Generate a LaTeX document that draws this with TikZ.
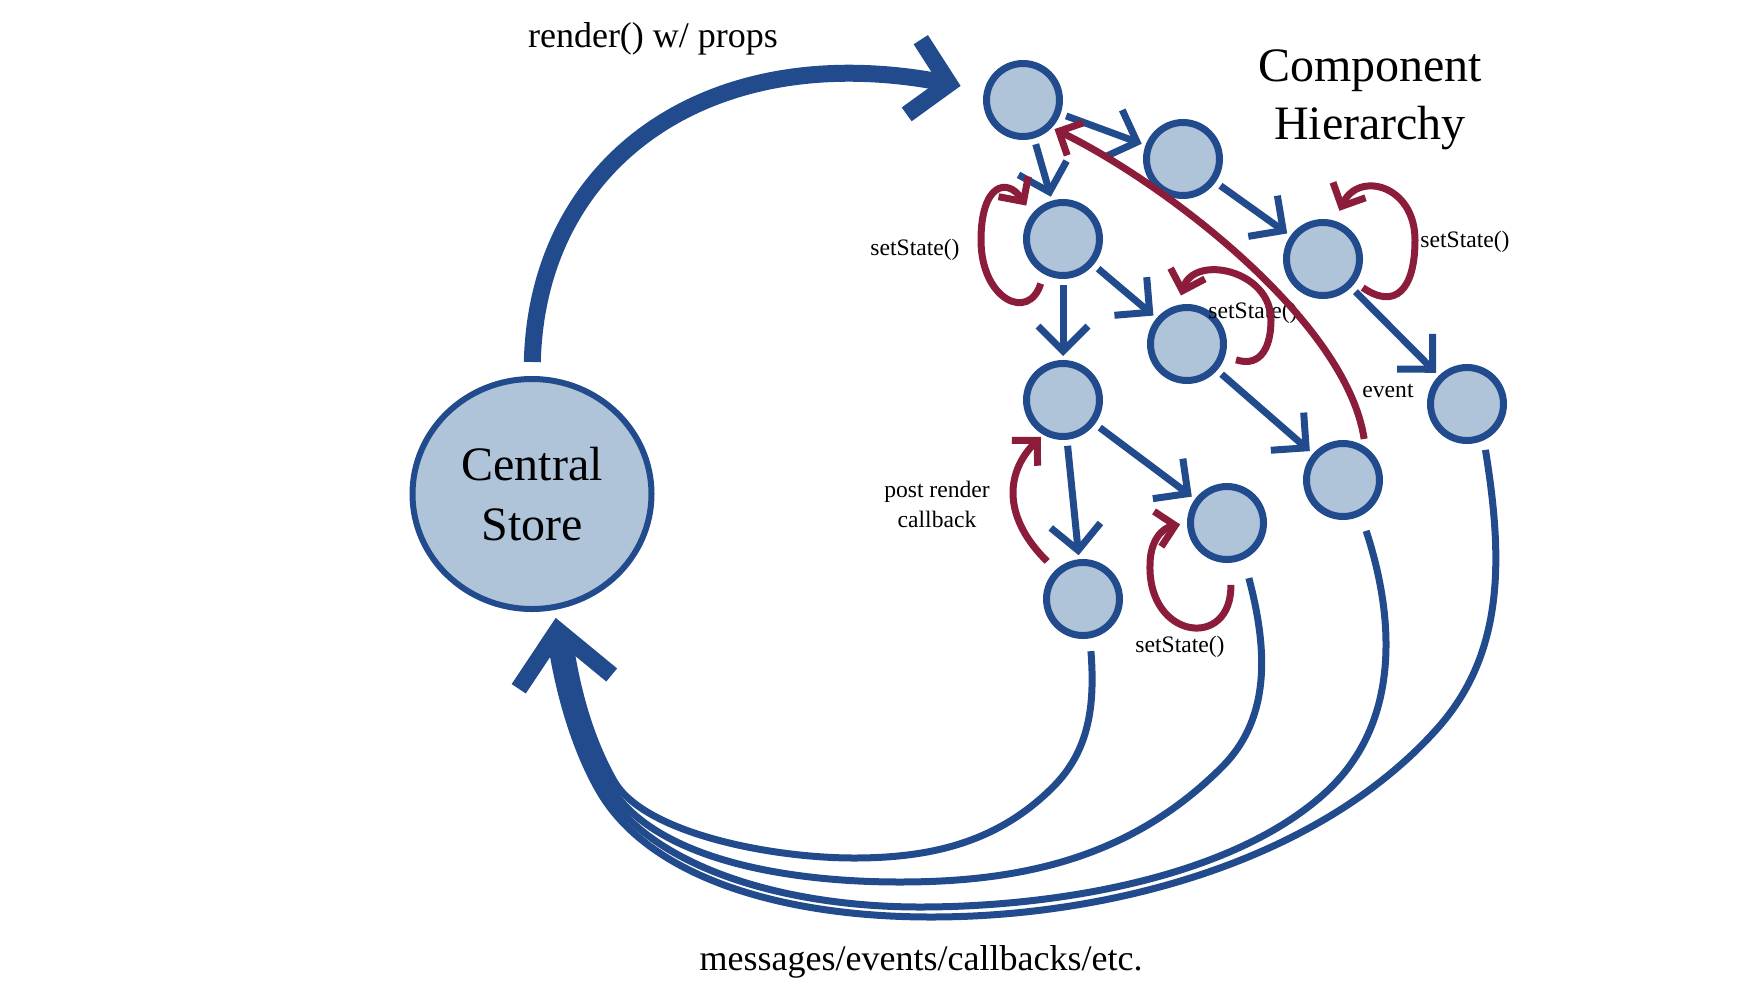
\documentclass[tikz,border=0pt]{standalone}
\usepackage{fontspec}
\setmainfont{Liberation Serif}
\usetikzlibrary{arrows.meta,shapes.geometric}
\definecolor{sblue}{HTML}{224B8D}
\definecolor{sfill}{HTML}{AFC3D9}
\definecolor{sred}{HTML}{8B1D3B}
\begin{document}
\begin{tikzpicture}[x=0.5pt,y=-0.5pt,
  comp/.style={circle,draw=sblue,fill=sfill,line width=3.5pt,minimum size=36.5pt,inner sep=0pt},
  storenode/.style={ellipse,draw=sblue,fill=sfill,line width=3pt,minimum width=119.5pt,minimum height=115pt,inner sep=0pt,align=center,font=\fontsize{24}{30}\selectfont},
  tree/.style={draw=sblue,line width=3.5pt,-{Straight Barb[length=12.5pt,width=25pt]},shorten <=3pt,shorten >=2pt},
  back/.style={draw=sred,line width=3.5pt,-{Straight Barb[length=9pt,width=18pt]}},
  ret/.style={draw=sblue,line width=3.5pt,shorten >=16.5pt},
  rethead/.style={draw=sblue,line width=3.5pt,shorten >=4pt,-{Straight Barb[length=26pt,width=47pt,line width=8.5pt]}},
  renderarrow/.style={draw=sblue,line width=8.5pt,-{Straight Barb[length=18pt,width=38pt]}},
  small/.style={font=\fontsize{11.8}{15}\selectfont,inner sep=0pt},
  big/.style={font=\fontsize{18}{22}\selectfont,inner sep=0pt},
  title/.style={font=\fontsize{24}{29}\selectfont,align=center,inner sep=0pt}
]
\useasboundingbox (0,0) rectangle (1752,1002);

% nodes
\node[storenode] (store) at (532,494) {Central\\Store};
\node[comp] (A) at (1023,100) {};
\node[comp] (B) at (1183,159) {};
\node[comp] (C) at (1063,239) {};
\node[comp] (D) at (1323,259) {};
\node[comp] (E) at (1187,344) {};
\node[comp] (F) at (1063,400) {};
\node[comp] (G) at (1467,404) {};
\node[comp] (H) at (1227,523) {};
\node[comp] (I) at (1343,480) {};
\node[comp] (J) at (1083,599) {};
\coordinate (stembase) at (563,667);

% labels
\node[big,anchor=base] (rlabel) at (653,47) {render() w/ props};
\node[big,anchor=base] (mlabel) at (921,970) {messages/events/callbacks/etc.};
\node[title] (title) at (1370,100) {Component\\Hierarchy};
\node[small,anchor=base] (s1) at (915,255) {setState()};
\node[small,anchor=base] (s2) at (1253,318) {setState()};
\node[small,anchor=base] (s3) at (1465,247) {setState()};
\node[small,anchor=base] (s4) at (1180,652) {setState()};
\node[small,anchor=base] (ev) at (1388,397) {event};
\node[small,align=center] (prc) at (937,504) {post render\\callback};

% render arrow
\draw[renderarrow,shorten <=7pt,shorten >=12pt] (store.north) .. controls (537,162) and (707,38) .. (A.166);

% tree edges
\draw[tree] (A) -- (B);
\draw[tree] (A) -- (C);
\draw[tree] (B) -- (D);
\draw[tree] (C) -- (E);
\draw[tree] (C) -- (F);
\draw[tree] (D) -- (G);
\draw[tree] (E) -- (I);
\draw[tree] (F) -- (H);
\draw[tree] (F) -- (J);

% red loops and callbacks
\draw[back,shorten <=5pt,shorten >=5pt] (C.-119) .. controls (1029,322) and (981,300) .. (981,240) .. controls (981,185) and (1006.5,176.5) .. (C.141);
\draw[back,shorten <=5.75pt,shorten >=5pt] (E.-18) .. controls (1262,368) and (1271,345) .. (1271,320) .. controls (1271,270) and (1194,253.6) .. (E.103);
\draw[back,shorten <=4.5pt,shorten >=5.5pt] (D.-36) .. controls (1395,310) and (1415,290) .. (1415,240) .. controls (1415,185) and (1358.6,170.4) .. (D.73);
\draw[back,shorten <=11pt,shorten >=3.5pt] (H.-85) .. controls (1232,650) and (1148,640) .. (1150,565) .. controls (1150,540) and (1162.7,528) .. (H.180);
\draw[back,shorten <=6pt,shorten >=1.5pt] (J.133) .. controls (1005,520) and (1003,475) .. (F.-120);
\draw[back,shorten <=4pt,shorten >=1.5pt] (I.56) .. controls (1346,320) and (1163,182) .. (A.-44);

% return arcs to the store (they merge into one bundle)
\draw[ret,shorten <=6.4pt] (J.-80) .. controls (1095,704) and (1090,750) .. (1053,787)
  .. controls (998,842) and (932,858) .. (854,858)
  .. controls (770,858) and (643.2,832.8) .. (613.8,780.6)
  .. controls (586.8,732.7) and (575.3,680.2) .. (store.-74.5);
\draw[ret,shorten <=9.75pt] (H.-65) .. controls (1267,647) and (1272,717) .. (1222,767)
  .. controls (1133,856) and (1026,882) .. (900,882)
  .. controls (770,882) and (647.8,853.1) .. (608.6,783.5)
  .. controls (581.6,735.6) and (569.4,681.1) .. (store.-77.4);
\draw[ret,shorten <=8pt] (I.-63) .. controls (1397,625) and (1398,727) .. (1325,793)
  .. controls (1229,880) and (1050,907) .. (920,907)
  .. controls (780,907) and (647.5,864.8) .. (603.4,786.5)
  .. controls (576.4,738.6) and (563.4,682.1) .. (store.-80.3);
\draw[ret,shorten <=4.85pt] (G.-65) .. controls (1502,553) and (1507,652) .. (1436,730)
  .. controls (1317,862) and (1109,917) .. (931,917)
  .. controls (780,917) and (647.2,876.4) .. (598.2,789.4)
  .. controls (571.2,741.5) and (557.5,683) .. (store.-83.3);
\draw[rethead] (stembase) -- (store.-79);
\end{tikzpicture}
\end{document}
